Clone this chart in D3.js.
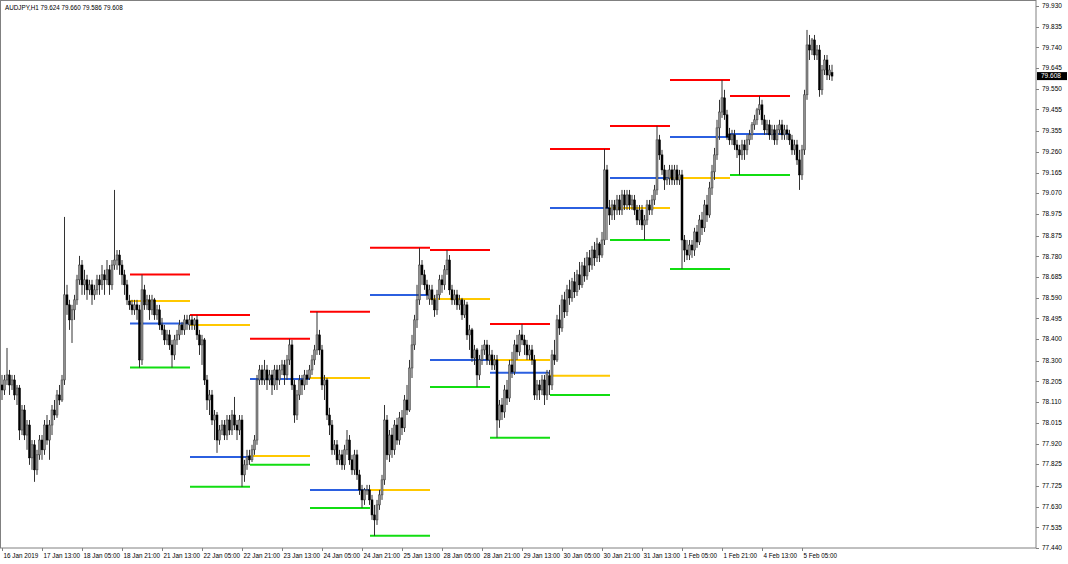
<!DOCTYPE html>
<html><head><meta charset="utf-8">
<script src="https://cdn.jsdelivr.net/npm/d3@7"></script>
<style>html,body{margin:0;padding:0;background:#fff;overflow:hidden}svg{display:block}</style>
</head><body><svg id="c" width="1068" height="564"></svg>
<script>
const title = "AUDJPY,H1  79.624 79.660 79.586 79.608";
const lastPrice = 79.608;
const opens = [
78.189,78.166,78.212,78.235,78.189,78.212,78.143,78.175,77.982,78.074,
77.959,78.005,77.854,77.914,77.799,77.868,77.936,77.891,78.005,77.936,
78.005,78.074,78.051,78.143,78.120,78.212,78.603,78.557,78.488,78.534,
78.580,78.672,78.740,78.649,78.672,78.626,78.649,78.603,78.626,78.672,
78.649,78.695,78.672,78.718,78.649,78.740,78.763,78.786,78.740,78.695,
78.649,78.575,78.557,78.534,78.557,78.534,78.304,78.626,78.557,78.580,
78.534,78.580,78.511,78.534,78.465,78.442,78.396,78.419,78.373,78.327,
78.396,78.419,78.465,78.442,78.488,78.465,78.488,78.465,78.488,78.419,
78.373,78.396,78.212,78.120,78.143,78.028,78.051,77.936,77.982,78.005,
77.959,78.028,77.982,78.051,78.005,77.982,78.028,77.776,77.822,77.863,
77.845,77.891,77.936,78.212,78.258,78.212,78.258,78.212,78.235,78.189,
78.258,78.212,78.258,78.281,78.235,78.304,78.373,78.189,78.051,78.143,
78.212,78.189,78.235,78.221,78.258,78.304,78.350,78.419,78.350,78.189,
78.212,78.051,78.005,77.891,77.914,77.845,77.868,77.822,77.891,77.936,
77.845,77.799,77.868,77.776,77.707,77.661,77.707,77.707,77.661,77.592,
77.569,77.638,77.684,77.753,78.028,77.868,77.959,77.891,78.005,77.936,
78.038,77.992,78.120,78.074,78.267,78.373,78.488,78.580,78.740,78.695,
78.649,78.584,78.626,78.580,78.534,78.603,78.672,78.649,78.718,78.763,
78.626,78.580,78.603,78.557,78.580,78.511,78.557,78.419,78.442,78.313,
78.350,78.235,78.304,78.350,78.373,78.304,78.327,78.281,78.304,78.028,
78.097,78.065,78.166,78.129,78.281,78.249,78.373,78.341,78.419,78.396,
78.373,78.327,78.350,78.304,78.143,78.189,78.166,78.212,78.143,78.231,
78.189,78.327,78.304,78.488,78.451,78.580,78.525,78.626,78.589,78.663,
78.617,78.695,78.649,78.736,78.690,78.773,78.740,78.809,78.773,78.837,
78.786,78.855,79.177,79.002,78.970,79.016,78.993,79.039,78.993,79.062,
79.016,79.062,79.016,79.039,78.993,78.947,78.993,78.924,78.947,79.016,
78.993,79.039,79.085,79.315,79.246,79.177,79.131,79.140,79.177,79.131,
79.177,79.131,79.154,78.855,78.809,78.786,78.832,78.809,78.892,78.846,
78.947,78.911,79.016,78.970,79.094,79.168,79.246,79.370,79.443,79.508,
79.430,79.342,79.315,79.338,79.292,79.269,79.246,79.292,79.269,79.315,
79.338,79.384,79.407,79.453,79.476,79.407,79.361,79.384,79.338,79.361,
79.315,79.361,79.384,79.338,79.361,79.342,79.315,79.269,79.292,79.223,
79.154,79.269,79.522,79.751,79.728,79.774,79.705,79.728,79.545,79.636,
79.682,79.613,79.624];
const highs = [
78.235,78.235,78.359,78.258,78.235,78.235,78.189,78.189,78.097,78.097,
78.028,78.028,77.936,77.936,77.891,77.959,77.959,78.028,78.051,78.028,
78.097,78.120,78.166,78.189,78.235,78.961,78.649,78.580,78.557,78.603,
78.695,78.782,78.763,78.718,78.695,78.672,78.672,78.649,78.695,78.695,
78.740,78.718,78.763,78.740,78.763,79.085,78.809,78.809,78.763,78.718,
78.672,78.603,78.580,78.580,78.580,78.557,78.696,78.649,78.603,78.603,
78.603,78.589,78.557,78.557,78.497,78.465,78.442,78.442,78.396,78.419,
78.442,78.488,78.479,78.511,78.511,78.511,78.511,78.497,78.511,78.442,
78.419,78.405,78.235,78.166,78.166,78.074,78.065,78.005,78.028,78.028,
78.051,78.051,78.074,78.134,78.028,78.051,78.051,77.845,77.891,77.891,
77.914,77.959,78.235,78.281,78.281,78.304,78.281,78.258,78.258,78.281,
78.281,78.281,78.304,78.304,78.327,78.401,78.396,78.212,78.166,78.235,
78.235,78.258,78.258,78.281,78.327,78.373,78.525,78.442,78.373,78.235,
78.221,78.084,78.028,77.936,77.936,77.891,77.891,77.914,77.982,77.959,
77.868,77.891,77.891,77.799,77.730,77.716,77.730,77.730,77.684,77.638,
77.661,77.707,77.776,78.097,78.051,77.982,77.992,78.028,78.038,78.065,
78.074,78.143,78.189,78.304,78.419,78.511,78.649,78.819,78.763,78.718,
78.672,78.649,78.649,78.603,78.626,78.695,78.695,78.740,78.809,78.786,
78.649,78.626,78.626,78.603,78.589,78.580,78.571,78.465,78.451,78.373,
78.359,78.327,78.373,78.396,78.396,78.373,78.350,78.327,78.327,78.120,
78.129,78.189,78.212,78.304,78.341,78.396,78.419,78.442,78.469,78.419,
78.396,78.373,78.373,78.327,78.212,78.212,78.235,78.235,78.258,78.258,
78.350,78.396,78.511,78.557,78.603,78.617,78.649,78.672,78.681,78.708,
78.718,78.754,78.754,78.773,78.800,78.809,78.828,78.846,78.865,78.846,
78.892,79.273,79.200,79.039,79.039,79.039,79.062,79.062,79.085,79.085,
79.085,79.085,79.062,79.062,79.016,79.016,79.016,78.970,79.039,79.039,
79.062,79.108,79.379,79.338,79.269,79.200,79.177,79.200,79.200,79.200,
79.200,79.177,79.177,78.878,78.855,78.855,78.855,78.911,78.924,78.970,
78.984,79.039,79.062,79.122,79.200,79.278,79.407,79.499,79.590,79.545,
79.453,79.370,79.361,79.361,79.315,79.292,79.315,79.315,79.338,79.361,
79.397,79.430,79.462,79.517,79.499,79.430,79.407,79.407,79.384,79.384,
79.384,79.407,79.407,79.384,79.384,79.361,79.338,79.315,79.315,79.269,
79.292,79.545,79.820,79.797,79.783,79.797,79.751,79.751,79.659,79.705,
79.705,79.659,79.660];
const lows = [
78.120,78.143,78.189,78.143,78.166,78.120,78.097,77.936,77.959,77.936,
77.891,77.822,77.799,77.744,77.776,77.845,77.845,77.868,77.914,77.845,
77.959,78.028,78.038,78.097,78.111,78.189,78.511,78.442,78.382,78.488,
78.557,78.649,78.603,78.603,78.580,78.603,78.557,78.580,78.603,78.603,
78.626,78.603,78.649,78.603,78.626,78.718,78.718,78.695,78.649,78.603,
78.557,78.534,78.511,78.511,78.488,78.269,78.281,78.534,78.534,78.488,
78.511,78.488,78.488,78.442,78.419,78.373,78.373,78.350,78.269,78.304,
78.373,78.396,78.419,78.419,78.442,78.442,78.442,78.442,78.396,78.327,
78.281,78.189,78.074,78.051,78.005,77.936,77.877,77.914,77.959,77.936,
77.936,77.959,77.959,77.982,77.936,77.959,77.721,77.744,77.799,77.822,
77.835,77.868,77.914,78.189,78.189,78.189,78.166,78.189,78.143,78.166,
78.166,78.189,78.235,78.189,78.212,78.281,78.166,78.015,78.028,78.120,
78.143,78.166,78.189,78.212,78.235,78.281,78.327,78.327,78.166,78.120,
78.028,77.959,77.868,77.868,77.822,77.822,77.799,77.799,77.868,77.822,
77.776,77.776,77.753,77.684,77.624,77.638,77.684,77.638,77.569,77.496,
77.546,77.615,77.661,77.730,77.845,77.835,77.854,77.868,77.914,77.914,
77.959,77.973,78.051,78.065,78.221,78.350,78.451,78.557,78.649,78.626,
78.580,78.557,78.557,78.502,78.511,78.580,78.612,78.626,78.695,78.603,
78.557,78.557,78.534,78.534,78.488,78.497,78.396,78.350,78.295,78.281,
78.180,78.212,78.281,78.327,78.281,78.281,78.258,78.258,77.947,77.992,
78.028,78.038,78.097,78.111,78.221,78.235,78.304,78.323,78.373,78.327,
78.304,78.304,78.281,78.120,78.120,78.120,78.143,78.097,78.120,78.143,
78.166,78.281,78.295,78.419,78.433,78.497,78.506,78.557,78.571,78.589,
78.598,78.626,78.635,78.663,78.672,78.708,78.718,78.736,78.754,78.754,
78.773,78.832,78.855,78.924,78.947,78.947,78.970,78.970,78.970,78.993,
78.993,78.993,78.993,78.970,78.924,78.924,78.901,78.855,78.924,78.970,
78.970,79.016,79.062,79.223,79.154,79.085,79.108,79.108,79.108,79.108,
79.108,79.108,78.722,78.754,78.763,78.763,78.773,78.782,78.819,78.832,
78.878,78.892,78.938,78.957,79.062,79.131,79.223,79.315,79.416,79.407,
79.315,79.292,79.292,79.269,79.232,79.154,79.223,79.223,79.246,79.292,
79.315,79.361,79.384,79.430,79.384,79.338,79.338,79.315,79.315,79.292,
79.292,79.338,79.315,79.315,79.315,79.292,79.246,79.246,79.200,79.085,
79.131,79.246,79.499,79.682,79.705,79.682,79.682,79.513,79.522,79.613,
79.590,79.590,79.586];
const closes = [
78.166,78.212,78.235,78.189,78.212,78.143,78.175,77.982,78.074,77.959,
78.005,77.854,77.914,77.799,77.868,77.936,77.891,78.005,77.936,78.005,
78.074,78.051,78.143,78.120,78.212,78.603,78.557,78.488,78.534,78.580,
78.672,78.740,78.649,78.672,78.626,78.649,78.603,78.626,78.672,78.649,
78.695,78.672,78.718,78.649,78.740,78.763,78.786,78.740,78.695,78.649,
78.580,78.557,78.534,78.557,78.534,78.304,78.626,78.557,78.580,78.534,
78.580,78.511,78.534,78.465,78.442,78.396,78.419,78.373,78.327,78.396,
78.419,78.465,78.442,78.488,78.471,78.488,78.465,78.488,78.419,78.373,
78.396,78.212,78.120,78.143,78.028,78.051,77.936,77.982,78.005,77.959,
78.028,77.982,78.051,78.005,77.982,78.028,77.776,77.822,77.858,77.845,
77.891,77.936,78.212,78.258,78.212,78.258,78.212,78.235,78.189,78.258,
78.212,78.258,78.281,78.235,78.304,78.373,78.189,78.051,78.143,78.212,
78.189,78.235,78.216,78.258,78.304,78.350,78.419,78.350,78.189,78.212,
78.051,78.005,77.891,77.914,77.845,77.868,77.822,77.891,77.936,77.845,
77.799,77.868,77.776,77.707,77.661,77.707,77.707,77.661,77.592,77.569,
77.638,77.684,77.753,78.028,77.868,77.959,77.891,78.005,77.936,78.038,
77.992,78.120,78.074,78.267,78.373,78.488,78.580,78.740,78.695,78.649,
78.603,78.626,78.580,78.534,78.603,78.672,78.649,78.718,78.763,78.626,
78.580,78.603,78.557,78.580,78.511,78.557,78.419,78.442,78.313,78.350,
78.235,78.304,78.350,78.373,78.304,78.327,78.281,78.304,78.028,78.097,
78.065,78.166,78.129,78.281,78.249,78.373,78.341,78.419,78.396,78.373,
78.327,78.350,78.304,78.143,78.189,78.166,78.212,78.143,78.245,78.189,
78.327,78.304,78.488,78.451,78.580,78.525,78.626,78.589,78.663,78.617,
78.695,78.649,78.736,78.690,78.773,78.740,78.809,78.773,78.837,78.786,
78.855,79.177,79.002,78.970,79.016,78.993,79.039,78.993,79.062,79.016,
79.062,79.016,79.039,78.993,78.947,78.993,78.924,78.947,79.016,78.993,
79.039,79.085,79.315,79.246,79.177,79.131,79.140,79.177,79.131,79.177,
79.131,79.154,78.855,78.809,78.786,78.832,78.809,78.892,78.846,78.947,
78.911,79.016,78.970,79.094,79.168,79.246,79.370,79.443,79.508,79.430,
79.328,79.315,79.338,79.292,79.269,79.246,79.292,79.269,79.315,79.338,
79.384,79.407,79.453,79.476,79.407,79.361,79.384,79.338,79.361,79.315,
79.361,79.384,79.338,79.361,79.342,79.315,79.269,79.292,79.223,79.154,
79.269,79.522,79.751,79.728,79.774,79.705,79.728,79.545,79.636,79.682,
79.613,79.636,79.608];

const timeTickBars = [0,16,32,48,64,80,96,112,128,144,160,176,192,208,224,240,256,272,288,304,320];
const timeTickLabels = ["16 Jan 2019","17 Jan 13:00","18 Jan 05:00","18 Jan 21:00","21 Jan 13:00","22 Jan 05:00","22 Jan 21:00","23 Jan 13:00","24 Jan 05:00","24 Jan 21:00","25 Jan 13:00","28 Jan 05:00","28 Jan 21:00","29 Jan 13:00","30 Jan 05:00","30 Jan 21:00","31 Jan 13:00","1 Feb 05:00","1 Feb 21:00","4 Feb 13:00","5 Feb 05:00"];
const priceTickLabels = ["79.930","79.835","79.740","79.645","79.550","79.455","79.355","79.260","79.165","79.070","78.975","78.875","78.780","78.685","78.590","78.495","78.400","78.300","78.205","78.110","78.015","77.920","77.825","77.725","77.630","77.535","77.440"];

// daily levels (drawn across each day)
const dayStartBar = [51,75,99,123,147,171,195,219,243,267,291];
const dayHigh  = [78.696,78.510,78.401,78.525,78.819,78.809,78.469,79.273,79.379,79.590,79.517];
const dayOpen  = [78.575,78.465,77.863,78.221,77.707,78.584,78.304,78.231,79.002,79.140,79.342];
const dayClose = [78.471,77.858,78.216,77.707,78.602,78.304,78.245,79.002,79.140,79.328,79.342];
const dayLow   = [78.269,77.721,77.822,77.624,77.496,78.180,77.947,78.143,78.855,78.722,79.154];
const barsPerDay = 24;

const svg = d3.select("#c");
const font = "'Liberation Sans', Arial, sans-serif";
const plotR = 1036, plotB = 548;
const x = d3.scaleLinear().domain([0, closes.length - 1]).range([2, 832]);
const y = d3.scaleLinear().domain([77.440, 79.930]).range([548, 6]);

svg.append("rect").attr("width",1068).attr("height",564).attr("fill","#fff");

// level lines
const levels = [
  {vals: dayHigh, color: "#ff0000"},
  {vals: dayOpen, color: "#ffc800"},
  {vals: dayClose, color: "#2b5fe0"},
  {vals: dayLow, color: "#11dd11"}
];
const gl = svg.append("g");
levels.forEach(L => {
  gl.selectAll(null).data(dayStartBar).enter().append("line")
    .attr("x1", d => x(d) + 0.5).attr("x2", d => x(d + barsPerDay) + 0.5)
    .attr("y1", (d,k) => y(L.vals[k])).attr("y2", (d,k) => y(L.vals[k]))
    .attr("stroke", L.color).attr("stroke-width", 2);
});

// candles
const idx = d3.range(closes.length);
const gc = svg.append("g");
gc.selectAll("line.w").data(idx).enter().append("line")
  .attr("x1", i => x(i)).attr("x2", i => x(i))
  .attr("y1", i => y(highs[i])).attr("y2", i => y(lows[i]))
  .attr("stroke", "#333").attr("stroke-width", 1);
gc.selectAll("rect.b").data(idx).enter().append("rect")
  .attr("x", i => x(i) - 1).attr("width", 2)
  .attr("y", i => y(Math.max(opens[i], closes[i])))
  .attr("height", i => Math.max(1, Math.abs(y(opens[i]) - y(closes[i]))))
  .attr("fill", i => closes[i] >= opens[i] ? "#8f8f8f" : "#000")
  .attr("stroke", i => closes[i] >= opens[i] ? "#3a3a3a" : "#000")
  .attr("stroke-width", 0.5);

// frame
svg.append("rect").attr("x",0.5).attr("y",0.5).attr("width",plotR-0.5).attr("height",plotB-0.5)
  .attr("fill","none").attr("stroke","#808080").attr("stroke-width",1);

// price axis
const ga = svg.append("g");
priceTickLabels.forEach(t => {
  const yy = y(+t);
  ga.append("line").attr("x1",plotR).attr("x2",plotR+3).attr("y1",Math.round(yy)+0.5).attr("y2",Math.round(yy)+0.5).attr("stroke","#808080");
  ga.append("text").attr("x",plotR+6).attr("y",yy+2.2).attr("font-family",font).attr("font-size",6.5).attr("fill","#000").text(t);
});
const ly = y(lastPrice);
ga.append("rect").attr("x",plotR+1).attr("y",ly-4).attr("width",30).attr("height",8).attr("fill","#000");
ga.append("text").attr("x",plotR+5).attr("y",ly+2.3).attr("font-family",font).attr("font-size",6.5).attr("fill","#fff").text(lastPrice.toFixed(3));

// time axis
timeTickBars.forEach((b,k) => {
  const xx = Math.round(x(b)) + 0.5;
  ga.append("line").attr("x1",xx).attr("x2",xx).attr("y1",plotB).attr("y2",plotB+3).attr("stroke","#808080");
  ga.append("text").attr("x",xx+1).attr("y",plotB+10).attr("font-family",font).attr("font-size",6.3).attr("fill","#000").text(timeTickLabels[k]);
});

// title
svg.append("text").attr("x",5).attr("y",10).attr("font-family",font).attr("font-size",6.3).attr("fill","#000").text(title);
</script></body></html>
